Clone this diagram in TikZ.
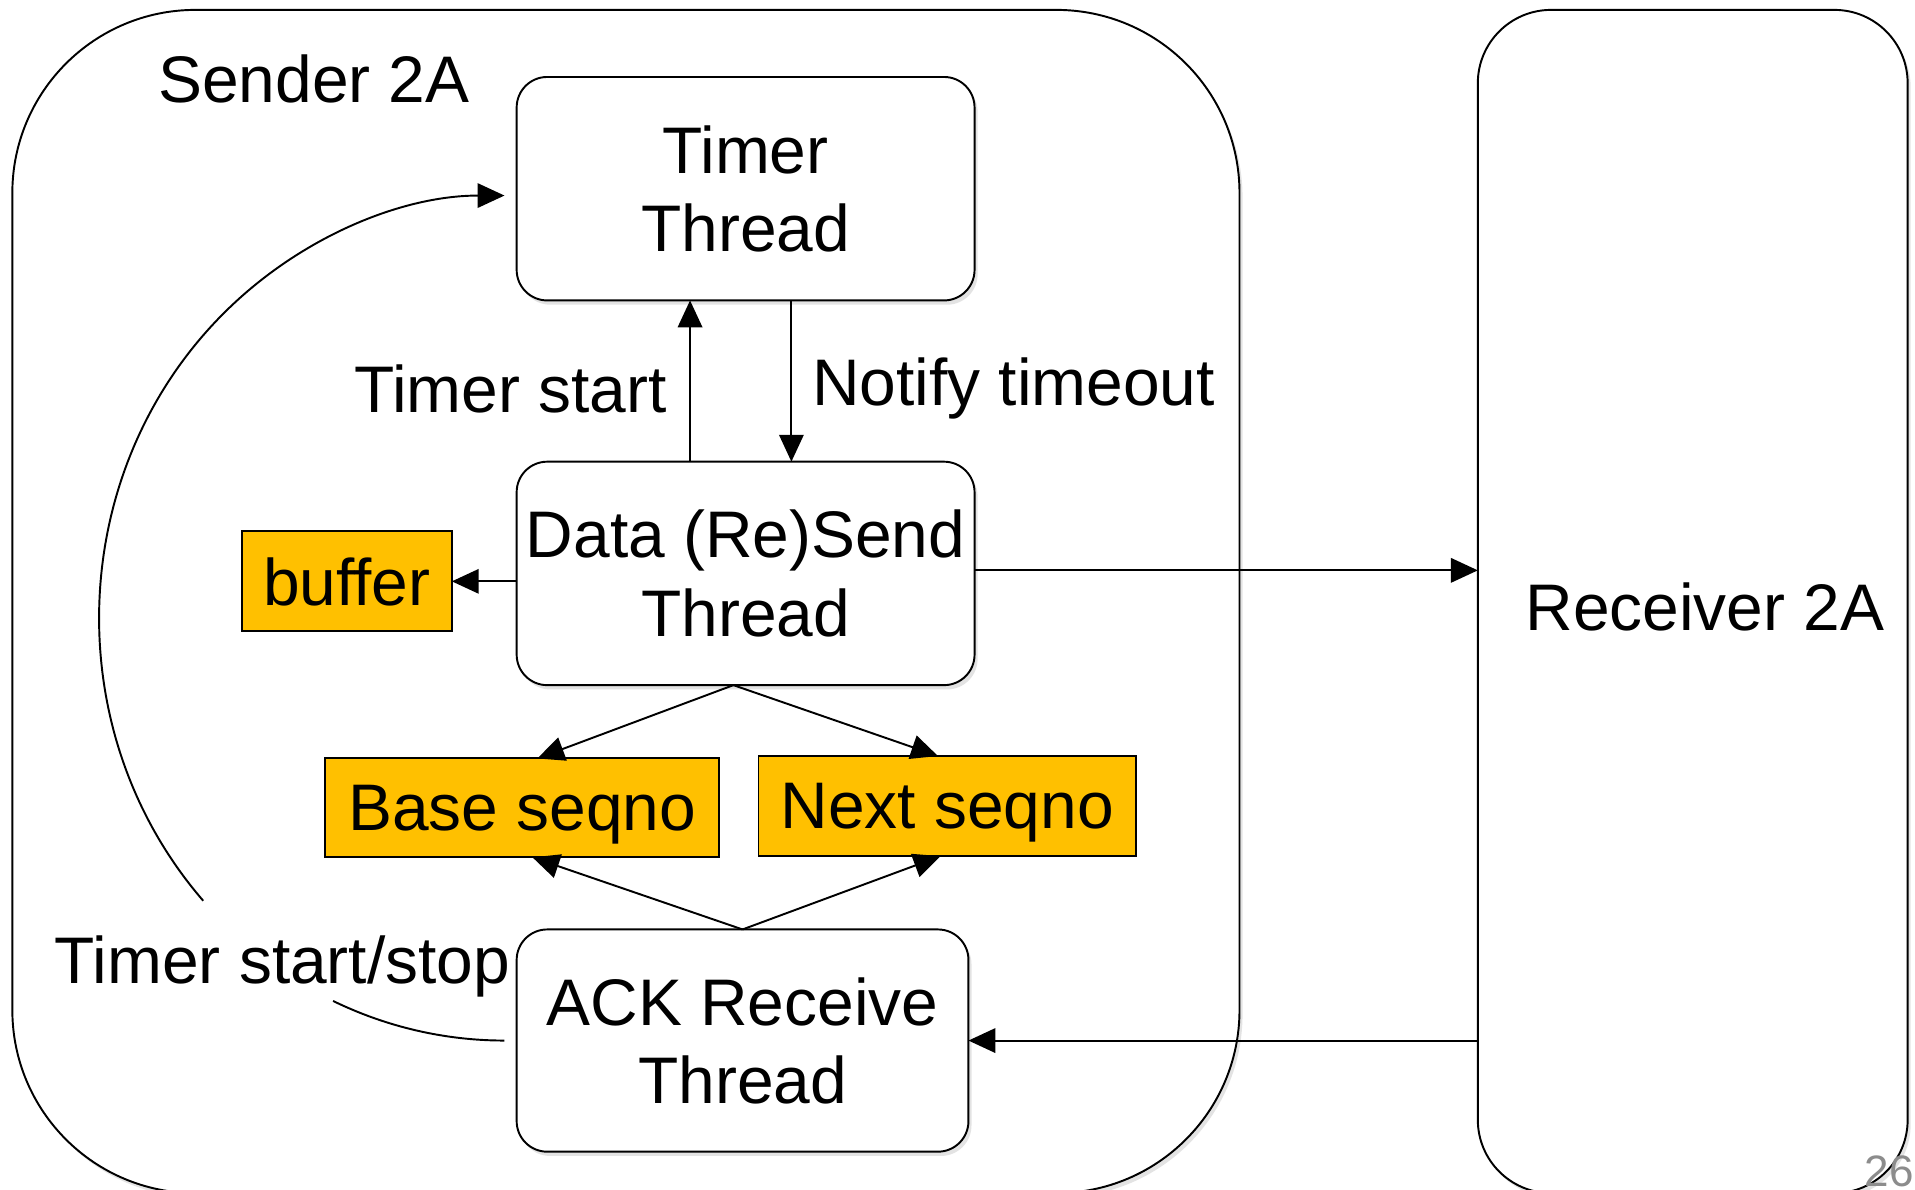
\documentclass[tikz,border=0pt]{standalone}
\usepackage{fontspec}
\setmainfont{Liberation Sans}
\usetikzlibrary{arrows.meta,shadows,calc}
\definecolor{boxorange}{HTML}{FFC000}
\definecolor{pagegray}{RGB}{140,140,140}
\begin{document}
\begin{tikzpicture}[x=0.02cm,y=-0.02cm,
  every node/.style={font=\fontsize{30.7pt}{36.4pt}\selectfont, inner sep=0pt, outer sep=0pt},
  lw/.style={line width=0.9pt},
  arr/.style={lw, -{Triangle[length=0.44cm,width=0.4cm]}},
  softshadow/.style={drop shadow={shadow xshift=0.05cm, shadow yshift=-0.07cm, opacity=0.18, fill=black!60}},
  container/.style={draw, lw, fill=white, softshadow},
  thread/.style={draw, lw, fill=white, rounded corners=0.5cm, align=center, softshadow, minimum width=7.5cm, minimum height=3.66cm},
  store/.style={draw, lw, fill=boxorange, minimum height=1.64cm, text depth=0pt}]
\useasboundingbox (0,0) rectangle (1568,974);
\clip (0,0) rectangle (1568,974);
% containers
\node[container, rounded corners=3cm, minimum width=20.1cm, minimum height=19.38cm] (sender) at (512.5,492.5) {};
\node[container, rounded corners=1.2cm, minimum width=7.04cm, minimum height=19.38cm] (receiver) at (1386,492.5) {};
\node[anchor=base] (senderlbl) at (257,84) {Sender 2A};
\node[anchor=base] (receiverlbl) at (1396,516) {Receiver 2A};
% threads
\node[thread] (timer) at (610.5,154.5) {Timer\\Thread};
\node[thread] (data) at (610.5,469.5) {Data (Re)Send\\Thread};
\node[thread, minimum width=7.4cm, minimum height=3.64cm] (ack) at (608,852) {ACK Receive\\Thread};
% stores
\node[store, minimum width=3.44cm] (buffer) at (284,476) {buffer};
\node[store, minimum width=6.46cm, minimum height=1.62cm] (base) at (427.5,661.5) {Base seqno};
\node[store, minimum width=6.18cm] (next) at (775.5,660) {Next seqno};
% labels
\node[anchor=base east] (tstartlbl) at (546,338) {Timer start};
\node[anchor=base west] (notifylbl) at (665,332) {Notify timeout};
\node[anchor=base west] (tsslbl) at (45,805) {Timer start/stop};
% connectors
\draw[arr] ([xshift=-0.91cm]data.north) -- ([xshift=-0.91cm]timer.south);
\draw[arr] ([xshift=0.75cm]timer.south) -- ([xshift=0.75cm]data.north);
\draw[arr] (data.west |- buffer.east) -- (buffer.east);
\draw[arr] ([yshift=0.05cm]data.east) -- ([yshift=0.05cm]data.east -| receiver.west);
\draw[arr] (ack.east -| receiver.west) -- (ack.east);
\draw[arr] ([xshift=-0.2cm]data.south) -- ([xshift=0.25cm]base.north);
\draw[arr] ([xshift=-0.2cm]data.south) -- ([xshift=-0.15cm]next.north);
\draw[arr] (ack.north) -- ([xshift=0.17cm]base.south);
\draw[arr] (ack.north) -- ([xshift=-0.11cm]next.south);
% timer start/stop arc (broken around its label)
\draw[lw] ([xshift=-0.2cm]ack.west) arc[start angle=270, end angle=245, x radius=6.64cm, y radius=6.92cm];
\draw[arr] ([shift={(-5.134cm,2.29cm)}]ack.west) arc[start angle=222, end angle=90, x radius=6.64cm, y radius=6.92cm];
% page number
\node[anchor=south east, font=\fontsize{20.5pt}{24pt}\selectfont, text=pagegray] (pagenum) at (1567,972) {26};
\end{tikzpicture}
\end{document}
